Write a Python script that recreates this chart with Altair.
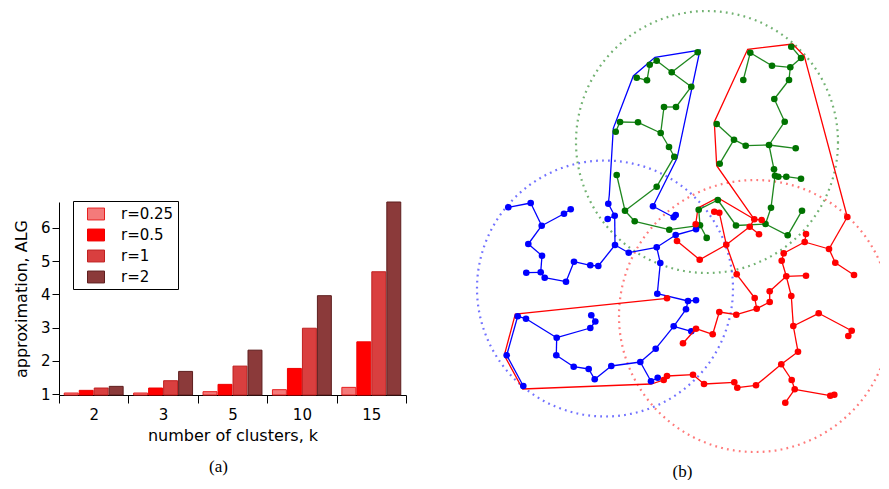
import altair as alt
import pandas as pd

# ---------------- panel (a): bar chart ----------------
k_values = ["2", "3", "5", "10", "15"]
r_values = ["r=0.25", "r=0.5", "r=1", "r=2"]
alg_r025 = [1.03, 1.03, 1.07, 1.13, 1.20]
alg_r05 = [1.11, 1.18, 1.29, 1.77, 2.57]
alg_r1 = [1.18, 1.40, 1.84, 2.98, 4.68]
alg_r2 = [1.23, 1.68, 2.32, 3.96, 6.78]
y_ticks = [1, 2, 3, 4, 5, 6]
bar_fills = ["#f47a7a", "#ff0000", "#d93f3f", "#8b3a3a"]
bar_strokes = ["#e62020", "#ee0000", "#c02020", "#5e1e1e"]

# ---------------- panel (b): clusters ----------------
blue_x = [507.3, 529.7, 540.7, 563.0, 569.7, 527.3, 541.0, 525.3, 539.7, 543.7,
          565.0, 573.0, 589.3, 597.3, 614.0, 627.7, 607.3, 606.7, 613.7, 652.0,
          672.7, 674.7, 695.0, 674.7, 655.7, 659.3, 656.3, 687.0, 695.0, 685.0,
          672.7, 690.3, 654.7, 639.3, 650.0, 656.7, 610.3, 593.7, 587.7, 572.7,
          555.3, 555.7, 525.0, 516.7, 505.7, 522.3, 589.3, 594.3, 590.3]
blue_y = [207.3, 203.0, 225.7, 213.7, 209.3, 244.0, 255.7, 272.7, 272.3, 277.7,
          281.7, 261.7, 265.3, 266.0, 245.0, 252.7, 203.7, 219.0, 215.7, 206.3,
          217.3, 215.0, 229.3, 235.0, 247.3, 263.0, 293.7, 301.0, 300.3, 309.3,
          326.3, 331.3, 348.7, 362.0, 381.3, 377.7, 366.0, 379.3, 369.0, 366.7,
          355.3, 337.7, 318.7, 316.3, 355.3, 386.0, 328.0, 321.5, 315.3]
blue_edges = [(0, 1), (1, 2), (2, 3), (3, 4), (2, 5), (5, 6), (6, 8), (8, 7), (8, 9),
              (9, 10), (10, 11), (11, 12), (12, 13), (13, 14), (14, 15), (15, 24),
              (14, 18), (18, 17), (18, 16), (19, 20), (20, 21), (22, 23), (23, 24),
              (24, 25), (25, 26), (26, 27), (27, 28), (27, 29), (29, 30), (30, 31),
              (30, 32), (32, 33), (33, 34), (34, 35), (33, 36), (36, 37), (37, 38),
              (38, 39), (39, 40), (40, 41), (41, 46), (46, 47), (47, 48), (41, 42),
              (42, 43), (43, 44), (44, 45)]

green_x = [696.7, 655.7, 648.7, 670.7, 635.7, 646.0, 690.3, 663.0, 675.0, 619.0,
           637.0, 614.7, 659.7, 668.0, 673.3, 615.7, 655.7, 624.0, 633.7, 668.3,
           697.7, 716.8, 699.0, 705.7, 735.0, 764.5, 770.0, 786.7, 801.0, 749.3,
           742.3, 771.0, 789.3, 790.3, 800.0, 788.0, 773.3, 783.7, 715.7, 733.0,
           744.7, 768.0, 794.7, 718.7, 773.0, 774.0, 777.3, 785.3, 800.0]
green_y = [52.3, 60.7, 64.7, 72.3, 77.7, 80.3, 86.7, 107.0, 107.0, 122.0,
           122.3, 131.7, 133.0, 147.0, 156.7, 175.0, 186.7, 210.7, 221.3, 229.7,
           209.7, 200.0, 225.3, 237.9, 225.5, 224.0, 207.7, 235.3, 210.7, 52.7,
           80.0, 65.7, 67.3, 46.7, 58.0, 80.0, 99.0, 121.7, 124.0, 139.7,
           145.7, 145.0, 148.3, 163.7, 169.3, 175.7, 176.7, 176.7, 178.7]
green_edges = [(1, 2), (2, 5), (5, 4), (1, 3), (3, 0), (3, 6), (6, 8), (8, 7), (7, 12),
               (12, 10), (10, 9), (9, 11), (12, 13), (13, 14), (14, 16), (16, 17),
               (15, 17), (17, 18), (18, 19), (19, 22), (22, 20), (20, 21), (21, 24),
               (22, 23), (24, 25), (25, 26), (25, 27), (27, 28), (26, 45), (29, 30),
               (29, 31), (31, 32), (32, 34), (34, 33), (32, 35), (35, 36), (36, 37),
               (37, 41), (41, 40), (40, 39), (39, 38), (39, 43), (41, 42), (41, 44),
               (44, 45), (45, 46), (46, 47), (47, 48)]

red_x = [846.3, 828.0, 834.3, 853.0, 805.0, 803.7, 782.7, 780.7, 785.3, 805.0,
         768.7, 768.7, 790.3, 792.3, 817.7, 850.7, 847.3, 797.0, 780.3, 790.7,
         793.7, 829.3, 833.3, 784.3, 755.0, 736.3, 733.3, 703.0, 692.0, 666.0,
         662.7, 666.0, 682.0, 695.0, 711.7, 718.3, 735.3, 755.7, 753.7, 735.7,
         725.3, 698.7, 676.0, 748.7, 758.0, 753.3, 760.7, 713.3, 718.3, 694.7]
red_y = [217.0, 249.0, 262.7, 275.0, 234.0, 242.0, 253.3, 260.7, 276.3, 275.7,
         291.3, 302.0, 296.0, 326.0, 313.3, 330.7, 336.0, 351.7, 364.3, 380.0,
         389.3, 395.7, 394.7, 402.7, 385.3, 387.7, 382.3, 384.0, 374.7, 376.0,
         380.0, 298.3, 343.3, 328.7, 334.3, 312.0, 314.7, 308.7, 298.0, 274.3,
         244.7, 259.7, 241.0, 226.7, 234.3, 219.3, 220.0, 211.7, 212.7, 224.3]
red_edges = [(0, 1), (1, 2), (2, 3), (1, 5), (5, 4), (5, 6), (6, 7), (7, 8), (8, 9),
             (8, 10), (10, 11), (11, 37), (37, 38), (38, 39), (39, 40), (40, 41),
             (41, 42), (40, 43), (43, 44), (43, 45), (45, 46), (48, 40), (47, 48),
             (8, 12), (12, 13), (13, 14), (14, 15), (15, 16), (13, 17), (17, 18),
             (18, 19), (19, 20), (20, 21), (21, 22), (20, 23), (18, 24), (24, 25),
             (25, 26), (26, 27), (27, 28), (28, 29), (29, 30), (37, 36), (36, 35),
             (35, 34), (34, 33), (33, 32)]

hull_red1_x = [694.7, 697.0, 716.7, 753.3, 715.7, 713.3, 746.7, 791.7, 803.3, 846.3]
hull_red1_y = [224.3, 208.0, 197.7, 219.3, 165.7, 122.0, 49.3, 44.0, 56.0, 217.0]
hull_red2_x = [666.0, 514.3, 503.3, 521.7, 650.0, 662.7]
hull_red2_y = [298.3, 314.0, 355.3, 389.0, 384.0, 380.0]
hull_blue_x = [607.3, 608.3, 612.3, 632.3, 654.0, 699.0, 676.0, 652.0]
hull_blue_y = [203.7, 195.0, 128.3, 76.0, 57.3, 50.0, 158.3, 206.3]

circle_x = [706.0, 604.0, 754.0]
circle_y = [142.0, 288.5, 316.0]
circle_r = [131.0, 128.0, 136.0]
circle_colors = ["#5aa55a", "#5a5aff", "#ff6464"]

# ================= build panel (a) =================
alg = [alg_r025, alg_r05, alg_r1, alg_r2]
rows = []
for ri, r in enumerate(r_values):
    for ki, k in enumerate(k_values):
        rows.append({"k": k, "r": r, "v": alg[ri][ki]})
bar_df = pd.DataFrame(rows)

legend_spec = dict(
    title=None, orient="none", legendX=14, legendY=-1,
    fillColor="white", strokeColor="black", padding=4,
    symbolType="M-1,-0.7L1,-0.7L1,0.7L-1,0.7Z", symbolSize=289,
    symbolStrokeWidth=1, symbolOffset=10, labelOffset=16, rowPadding=4,
    labelFont="DejaVu Sans", labelFontSize=15, labelColor="black",
)

bars = alt.Chart(bar_df).mark_bar(strokeWidth=1).encode(
    x=alt.X("k:N", sort=k_values,
            scale=alt.Scale(paddingInner=0, paddingOuter=0),
            axis=alt.Axis(title="number of clusters, k", labelAngle=0,
                          tickBand="extent", tickSize=8, labelPadding=4,
                          titlePadding=5)),
    xOffset=alt.XOffset("r:N", sort=r_values,
                        scale=alt.Scale(paddingInner=0.07, paddingOuter=0.35)),
    y=alt.Y("v:Q", scale=alt.Scale(domain=[0.97, 6.78], zero=False, nice=False),
            axis=alt.Axis(title="approximation, ALG", values=y_ticks,
                          tickSize=7, labelPadding=2, titlePadding=10.5)),
    y2=alt.datum(0.97),
    fill=alt.Fill("r:N", sort=r_values,
                  scale=alt.Scale(domain=r_values, range=bar_fills),
                  legend=alt.Legend(**legend_spec)),
    stroke=alt.Stroke("r:N", sort=r_values,
                      scale=alt.Scale(domain=r_values, range=bar_strokes),
                      legend=alt.Legend(**legend_spec)),
).properties(
    width=347, height=193,
    title=alt.TitleParams("(a)", orient="bottom", font="Liberation Serif",
                          fontSize=17, fontWeight="normal", offset=16, dx=-14,
                          color="black"),
)

spacer = alt.Chart(pd.DataFrame({"a": [0]})).mark_rect(opacity=0).encode(
    x=alt.value(0), x2=alt.value(1), y=alt.value(0), y2=alt.value(1)
).properties(width=347, height=182)

left = alt.vconcat(spacer, bars, spacing=10).resolve_legend(
    fill="independent", stroke="independent")

# ================= build panel (b) =================
def edge_frame(xs, ys, edges):
    return pd.DataFrame({
        "x": [xs[i] for i, j in edges], "y": [ys[i] for i, j in edges],
        "x2": [xs[j] for i, j in edges], "y2": [ys[j] for i, j in edges],
    })

XW = [470, 879]
YH = [8, 458]
xs = alt.X("x:Q", scale=alt.Scale(domain=XW, nice=False, zero=False), axis=None)
ys = alt.Y("y:Q", scale=alt.Scale(domain=YH, nice=False, zero=False, reverse=True), axis=None)

layers = []
for cx, cy, cr, cc in zip(circle_x, circle_y, circle_r, circle_colors):
    layers.append(
        alt.Chart(pd.DataFrame({"x": [cx], "y": [cy]})).mark_point(
            shape="circle", filled=False, color=cc, size=(2 * cr) ** 2,
            strokeWidth=2.2, strokeDash=[1.8, 4.2], opacity=0.85, clip=True
        ).encode(x=xs, y=ys)
    )

hull_rows = []
for hid, hx, hy in [("r1", hull_red1_x, hull_red1_y), ("r2", hull_red2_x, hull_red2_y)]:
    for i, (a, b) in enumerate(zip(hx, hy)):
        hull_rows.append({"h": hid, "i": i, "x": a, "y": b})
layers.append(
    alt.Chart(pd.DataFrame(hull_rows)).mark_line(color="#ff0000", strokeWidth=1.3).encode(
        x=xs, y=ys, detail="h:N", order="i:Q")
)
layers.append(
    alt.Chart(pd.DataFrame({"x": hull_blue_x, "y": hull_blue_y,
                            "i": list(range(len(hull_blue_x)))})).mark_line(
        color="#0000ff", strokeWidth=1.3).encode(x=xs, y=ys, order="i:Q")
)

for nx, ny, ne, ecol, ncol in [
    (green_x, green_y, green_edges, "#1e871e", "#007300"),
    (blue_x, blue_y, blue_edges, "#0000ff", "#0000ff"),
    (red_x, red_y, red_edges, "#ff0000", "#ff0000"),
]:
    layers.append(
        alt.Chart(edge_frame(nx, ny, ne)).mark_rule(color=ecol, strokeWidth=1.3).encode(
            x=xs, y=ys, x2="x2:Q", y2="y2:Q")
    )
    layers.append(
        alt.Chart(pd.DataFrame({"x": nx, "y": ny})).mark_circle(
            color=ncol, size=44, opacity=1).encode(x=xs, y=ys)
    )

network = alt.layer(*layers).properties(
    width=XW[1] - XW[0], height=YH[1] - YH[0],
    title=alt.TitleParams("(b)", orient="bottom", font="Liberation Serif",
                          fontSize=17, fontWeight="normal", offset=6, dx=7,
                          color="black"),
)

chart = alt.hconcat(left, network, spacing=64).resolve_legend(
    fill="independent", stroke="independent"
).properties(
    padding={"left": 5, "top": 0, "right": 0, "bottom": 0}
).configure_view(stroke=None).configure_axis(
    grid=False, domainColor="black", tickColor="black", labelColor="black",
    titleColor="black", labelFont="DejaVu Sans", titleFont="DejaVu Sans",
    labelFontSize=15, titleFontSize=16, titleFontWeight="normal",
    domainWidth=1, tickWidth=1,
)

chart.save("out.html", embed_options={"renderer": "svg", "actions": False})
